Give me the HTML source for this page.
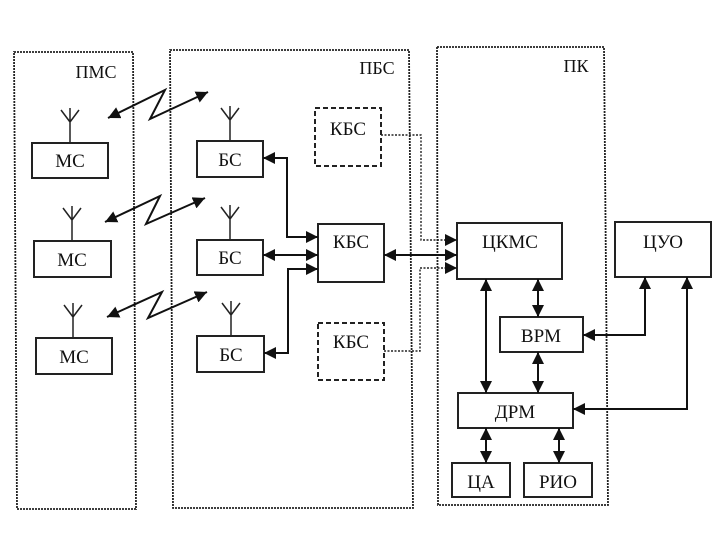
<!DOCTYPE html>
<html><head><meta charset="utf-8"><style>
html,body{margin:0;padding:0;background:#fff;width:720px;height:540px;overflow:hidden}
text{font-family:"Liberation Serif","Noto Serif CJK SC",serif;fill:#111;text-anchor:middle}
</style></head><body>
<svg width="720" height="540" viewBox="0 0 720 540" xmlns="http://www.w3.org/2000/svg">
<defs>
<marker id="b" viewBox="0 0 10 10" refX="10" refY="5" markerWidth="12" markerHeight="12" orient="auto-start-reverse" markerUnits="userSpaceOnUse"><path d="M0,0 L10,5 L0,10z" fill="#111"/></marker>
</defs>
<g fill="none" stroke="#222" stroke-width="1.8" stroke-dasharray="2 1">
<path d="M14 52 L133 52 L136 509 L17 509 Z"/>
<path d="M170 50 L409 50 L413 508 L173 508 Z"/>
<path d="M437 47 L604 47 L608 505 L438 505 Z"/>
</g>
<text x="96" y="78" font-size="18">ПМС</text>
<text x="377" y="74" font-size="18">ПБС</text>
<text x="576" y="72" font-size="18">ПК</text>
<g fill="#fff" stroke="#222" stroke-width="2">
<rect x="32" y="143" width="76" height="35"/>
<rect x="34" y="241" width="77" height="36"/>
<rect x="36" y="338" width="76" height="36"/>
<rect x="197" y="141" width="66" height="36"/>
<rect x="197" y="240" width="66" height="35"/>
<rect x="197" y="336" width="67" height="36"/>
<rect x="318" y="224" width="66" height="58"/>
<rect x="457" y="223" width="105" height="56"/>
<rect x="615" y="222" width="96" height="55"/>
<rect x="500" y="317" width="83" height="35"/>
<rect x="458" y="393" width="115" height="35"/>
<rect x="452" y="463" width="58" height="34"/>
<rect x="524" y="463" width="68" height="34"/>
</g>
<g fill="none" stroke="#222" stroke-width="2" stroke-dasharray="5 3">
<rect x="315" y="108" width="66" height="58"/>
<rect x="318" y="323" width="66" height="57"/>
</g>
<g font-size="19">
<text x="70" y="167">МС</text><text x="72" y="266">МС</text><text x="74" y="363">МС</text>
<text x="230" y="166">БС</text><text x="230" y="264">БС</text><text x="231" y="361">БС</text>
<text x="351" y="248">КБС</text><text x="348" y="135">КБС</text><text x="351" y="348">КБС</text>
<text x="510" y="248">ЦКМС</text><text x="663" y="248">ЦУО</text>
<text x="541" y="342">ВРМ</text><text x="515" y="418">ДРМ</text>
<text x="481" y="488">ЦА</text><text x="558" y="488">РИО</text>
</g>
<g stroke="#222" stroke-width="1.5" fill="none">
<path d="M70 143 V122 M70 122 L61 110 M70 122 L79 110 M70 122 L70 108"/>
<path d="M72 241 V220 M72 220 L63 208 M72 220 L81 208 M72 220 L72 206"/>
<path d="M73 338 V317 M73 317 L64 305 M73 317 L82 305 M73 317 L73 303"/>
<path d="M230 141 V120 M230 120 L221 108 M230 120 L239 108 M230 120 L230 106"/>
<path d="M230 240 V219 M230 219 L221 207 M230 219 L239 207 M230 219 L230 205"/>
<path d="M231 336 V315 M231 315 L222 303 M231 315 L240 303 M231 315 L231 301"/>
</g>
<g stroke="#111" stroke-width="2" fill="none" marker-start="url(#b)" marker-end="url(#b)">
<path d="M108 118 L165 90 L150 119 L208 92"/>
<path d="M105 222 L160 196 L146 224 L205 198"/>
<path d="M107 317 L162 292 L148 318 L207 292"/>
<path d="M263 158 H287 V237 H318"/>
<path d="M263 255 H318"/>
<path d="M264 353 H288 V269 H318"/>
<path d="M384 255 H457"/>
<path d="M486 279 V393"/>
<path d="M538 279 V317"/>
<path d="M538 352 V393"/>
<path d="M486 428 V463"/>
<path d="M559 428 V463"/>
<path d="M583 335 H645 V277"/>
<path d="M573 409 H687 V277"/>
</g>
<g stroke="#222" stroke-width="1.4" fill="none" stroke-dasharray="2 1.5">
<path d="M381 135 H421 V240 H457" marker-end="url(#b)"/>
<path d="M384 351 H420 V268 H457" marker-end="url(#b)"/>
</g>
</svg>
</body></html>
